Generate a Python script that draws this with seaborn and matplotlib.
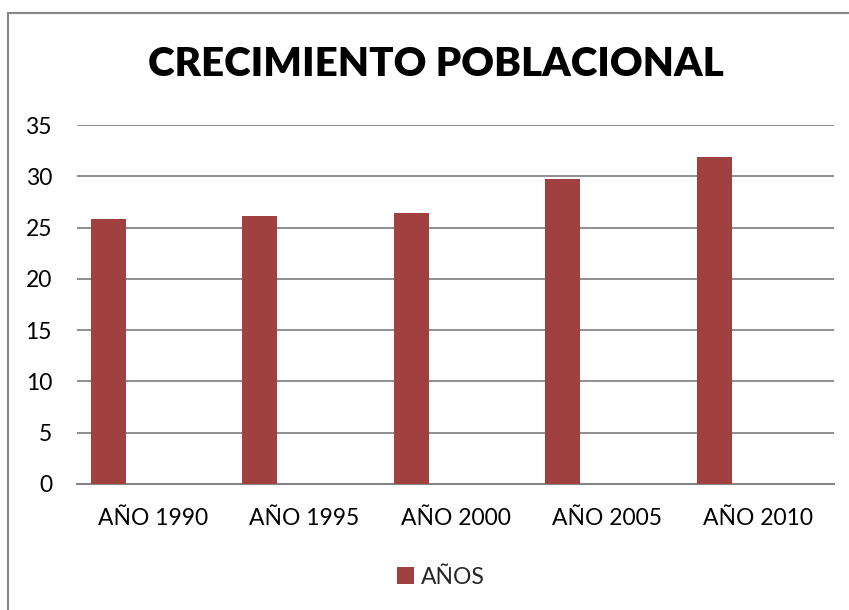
import matplotlib
matplotlib.use("Agg")
import matplotlib.pyplot as plt
from matplotlib.patches import Rectangle
import seaborn as sns
import pandas as pd

years = ["AÑO 1990", "AÑO 1995", "AÑO 2000", "AÑO 2005", "AÑO 2010"]
values = [25.8, 26.1, 26.4, 29.7, 31.9]
series_name = "AÑOS"

bar_color = "#A0403F"
grid_color = "#868686"

df = pd.DataFrame({"year": years, "value": values, "series": series_name})

sns.set_style("white")
plt.rcParams["font.family"] = ["Lato", "DejaVu Sans"]

fig = plt.figure(figsize=(8.49, 6.10), dpi=100)
ax = fig.add_axes([77 / 849, 1 - 484 / 610, (834 - 77) / 849, (484 - 125) / 610])

bar_w = 0.232
sns.barplot(data=df, x="year", y="value", hue="series", palette=[bar_color],
            width=bar_w, saturation=1, legend=False, ax=ax, zorder=3)
# Excel leaves room for an empty second series: bars sit left in each slot
for p in ax.patches:
    p.set_x(p.get_x() - 0.292)
    p.set_edgecolor("none")

ax.set_xlim(-0.5, len(years) - 0.5)
ax.set_ylim(0, 35)
ax.set_yticks(range(0, 36, 5))
ax.yaxis.grid(True, color=grid_color, linewidth=1.3, zorder=0)
ax.set_axisbelow(True)
for s in ["top", "right", "left"]:
    ax.spines[s].set_visible(False)
ax.spines["bottom"].set_color(grid_color)
ax.spines["bottom"].set_linewidth(1.5)
ax.tick_params(axis="both", length=0, labelsize=16.5, colors="black")
ax.tick_params(axis="x", pad=17)
ax.tick_params(axis="y", pad=18)
ax.set_xlabel("")
ax.set_ylabel("")

fig.text(436 / 849, 1 - 65 / 610, "CRECIMIENTO POBLACIONAL", ha="center", va="center",
         fontsize=29, fontweight="heavy", color="black")

handle = Rectangle((0, 0), 1, 1, facecolor=bar_color, edgecolor="none")
fig.legend([handle], [series_name], loc="center", bbox_to_anchor=(441 / 849, 1 - 577 / 610),
           frameon=False, fontsize=16.5, handlelength=0.75, handleheight=0.75,
           handletextpad=0.3)

# chart area border (right and bottom edges are cropped away)
fig.add_artist(Rectangle((8 / 849, -0.5), 2, 1.5 - 13 / 610, transform=fig.transFigure,
                         facecolor="none", edgecolor=grid_color, linewidth=1.5))

fig.savefig("out.png", dpi=100)
